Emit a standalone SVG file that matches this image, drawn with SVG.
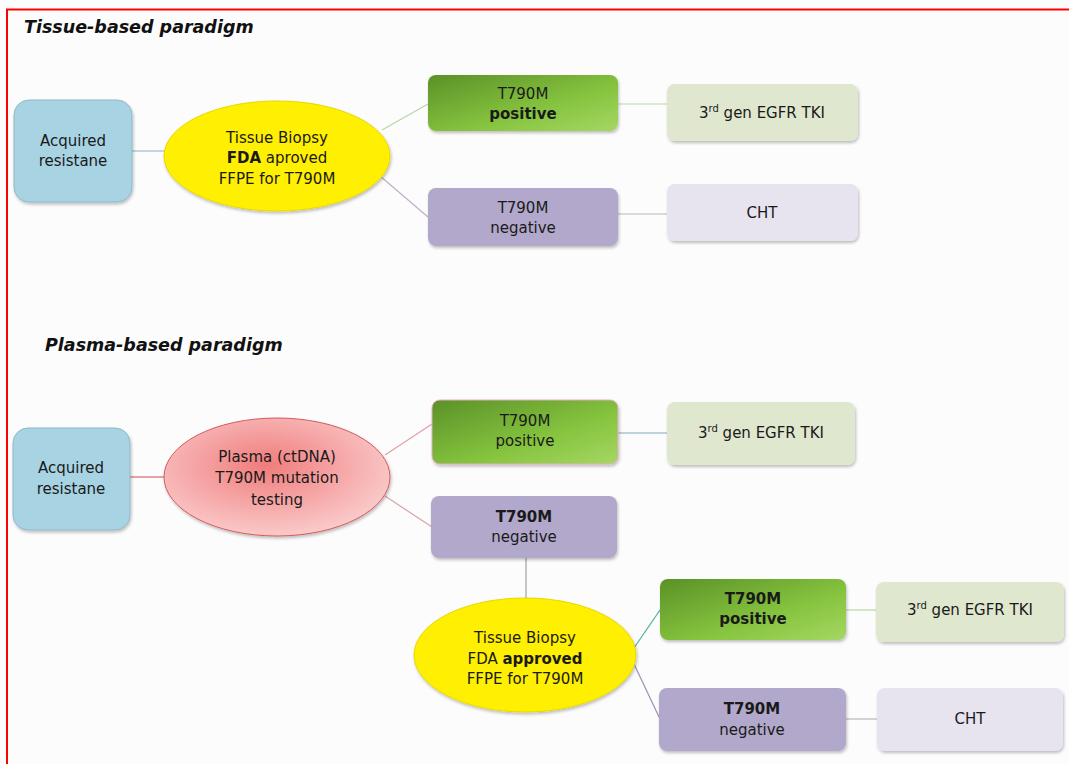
<svg xmlns="http://www.w3.org/2000/svg" width="1069" height="764" viewBox="0 0 1069 764">
<defs>
<linearGradient id="gGreen" x1="0" y1="0" x2="1" y2="1">
<stop offset="0" stop-color="#5b9127"/>
<stop offset="0.6" stop-color="#86c43f"/>
<stop offset="1" stop-color="#a5d763"/>
</linearGradient>
<radialGradient id="gRed" cx="0.45" cy="0.4" r="0.7">
<stop offset="0" stop-color="#f07c7c"/>
<stop offset="1" stop-color="#fcd6d6"/>
</radialGradient>
<filter id="sh" x="-10%" y="-10%" width="130%" height="140%">
<feDropShadow dx="1" dy="2" stdDeviation="1.5" flood-color="#000" flood-opacity="0.25"/>
</filter>
</defs>
<style>
.t{font-family:"DejaVu Sans",sans-serif;font-size:15px;fill:#1a1a1a;text-anchor:middle}
.b{font-weight:bold}
.h{font-family:"DejaVu Sans",sans-serif;font-size:17.5px;font-weight:bold;font-style:italic;fill:#111}
.blue{fill:#a7d3e3;stroke:#8fb8c8;stroke-width:1}
.yel{fill:#ffef00;stroke:#e8d800;stroke-width:1}
.grn{fill:url(#gGreen)}
.pur{fill:#b2a8cb}
.lgr{fill:#dfe7cf}
.lpu{fill:#e7e3ef}
.ln{fill:none;stroke-width:1.2}
</style>
<rect x="0" y="0" width="1069" height="764" fill="#fcfcfc"/>
<path d="M7 764 V9.5 H1069" fill="none" stroke="#ff0000" stroke-width="2"/>
<text class="h" x="24" y="33">Tissue-based paradigm</text>
<text class="h" x="45" y="351">Plasma-based paradigm</text>

<g id="connectors">
<line class="ln" x1="132" y1="151" x2="165" y2="151" stroke="#86b0c0"/>
<line class="ln" x1="382" y1="130" x2="428" y2="104" stroke="#b9d79f"/>
<line class="ln" x1="380" y1="176" x2="428" y2="217" stroke="#c0aec8"/>
<line class="ln" x1="618" y1="104" x2="667" y2="104" stroke="#b9d79f"/>
<line class="ln" x1="618" y1="214" x2="667" y2="214" stroke="#b7b7b7"/>
<line class="ln" x1="130" y1="477" x2="164" y2="477" stroke="#d04848"/>
<line class="ln" x1="385" y1="455" x2="432" y2="424" stroke="#e0a0a8"/>
<line class="ln" x1="385" y1="496" x2="432" y2="527" stroke="#e0a0a8"/>
<line class="ln" x1="618" y1="433" x2="667" y2="433" stroke="#7ea7b8"/>
<line class="ln" x1="526" y1="558" x2="526" y2="600" stroke="#a0a0a0"/>
<line class="ln" x1="634" y1="648" x2="660" y2="610" stroke="#4caf9a"/>
<line class="ln" x1="634" y1="664" x2="660" y2="719" stroke="#9c8fb8"/>
<line class="ln" x1="846" y1="610" x2="876" y2="610" stroke="#b9d79f"/>
<line class="ln" x1="846" y1="719" x2="877" y2="719" stroke="#b7b7b7"/>
</g>

<g id="t-acq">
<rect class="blue" x="14" y="100" width="118" height="102" rx="15" filter="url(#sh)"/>
<text class="t" x="73" y="146">Acquired</text>
<text class="t" x="73" y="166">resistane</text>
</g>
<g id="t-biopsy">
<ellipse class="yel" cx="277" cy="156" rx="113" ry="55" filter="url(#sh)"/>
<text class="t" x="277" y="143">Tissue Biopsy</text>
<text class="t" x="277" y="163"><tspan class="b">FDA</tspan> aproved</text>
<text class="t" x="277" y="184">FFPE for T790M</text>
</g>
<g id="t-pos">
<rect class="grn" x="428" y="75" width="190" height="56" rx="8" filter="url(#sh)"/>
<text class="t" x="523" y="99">T790M</text>
<text class="t b" x="523" y="119">positive</text>
</g>
<g id="t-tki">
<rect class="lgr" x="667" y="84" width="191" height="57" rx="8" filter="url(#sh)"/>
<text class="t" x="762" y="118">3<tspan font-size="10" dy="-6">rd</tspan><tspan dy="6"> gen EGFR TKI</tspan></text>
</g>
<g id="t-neg">
<rect class="pur" x="428" y="188" width="190" height="58" rx="8" filter="url(#sh)"/>
<text class="t" x="523" y="213">T790M</text>
<text class="t" x="523" y="233">negative</text>
</g>
<g id="t-cht">
<rect class="lpu" x="667" y="184" width="191" height="57" rx="8" filter="url(#sh)"/>
<text class="t" x="762" y="218">CHT</text>
</g>

<g id="p-acq">
<rect class="blue" x="13" y="428" width="117" height="102" rx="15" filter="url(#sh)"/>
<text class="t" x="71" y="473">Acquired</text>
<text class="t" x="71" y="494">resistane</text>
</g>
<g id="p-plasma">
<ellipse cx="277" cy="477" rx="113" ry="59" fill="url(#gRed)" stroke="#d45a5a" stroke-width="1" filter="url(#sh)"/>
<text class="t" x="277" y="462">Plasma (ctDNA)</text>
<text class="t" x="277" y="483">T790M mutation</text>
<text class="t" x="277" y="505">testing</text>
</g>
<g id="p-pos">
<rect class="grn" x="432" y="400" width="186" height="64" rx="8" stroke="#e0b0c0" stroke-width="1" filter="url(#sh)"/>
<text class="t" x="525" y="426">T790M</text>
<text class="t" x="525" y="446">positive</text>
</g>
<g id="p-tki">
<rect class="lgr" x="667" y="402" width="188" height="63" rx="8" filter="url(#sh)"/>
<text class="t" x="761" y="438">3<tspan font-size="10" dy="-6">rd</tspan><tspan dy="6"> gen EGFR TKI</tspan></text>
</g>
<g id="p-neg">
<rect class="pur" x="431" y="496" width="186" height="62" rx="8" filter="url(#sh)"/>
<text class="t b" x="524" y="522">T790M</text>
<text class="t" x="524" y="542">negative</text>
</g>
<g id="p-biopsy">
<ellipse class="yel" cx="525" cy="655" rx="111" ry="57" filter="url(#sh)"/>
<text class="t" x="525" y="643">Tissue Biopsy</text>
<text class="t" x="525" y="664">FDA <tspan class="b">approved</tspan></text>
<text class="t" x="525" y="684">FFPE for T790M</text>
</g>
<g id="p-pos2">
<rect class="grn" x="660" y="579" width="186" height="61" rx="8" filter="url(#sh)"/>
<text class="t b" x="753" y="604">T790M</text>
<text class="t b" x="753" y="624">positive</text>
</g>
<g id="p-tki2">
<rect class="lgr" x="876" y="582" width="188" height="60" rx="8" filter="url(#sh)"/>
<text class="t" x="970" y="615">3<tspan font-size="10" dy="-6">rd</tspan><tspan dy="6"> gen EGFR TKI</tspan></text>
</g>
<g id="p-neg2">
<rect class="pur" x="659" y="688" width="187" height="63" rx="8" filter="url(#sh)"/>
<text class="t b" x="752" y="714">T790M</text>
<text class="t" x="752" y="735">negative</text>
</g>
<g id="p-cht2">
<rect class="lpu" x="877" y="688" width="186" height="63" rx="8" filter="url(#sh)"/>
<text class="t" x="970" y="724">CHT</text>
</g>
</svg>
